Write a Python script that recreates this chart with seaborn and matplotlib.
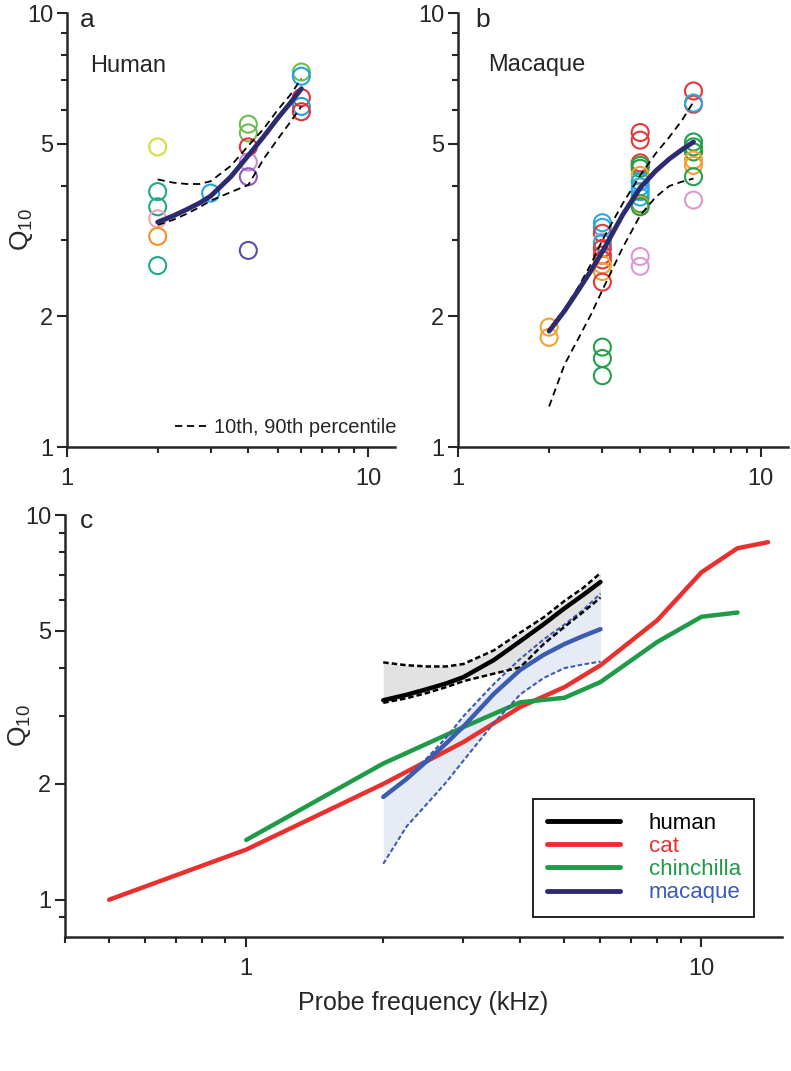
import matplotlib
matplotlib.use("Agg")
import matplotlib.pyplot as plt
from matplotlib.ticker import NullFormatter
from matplotlib.lines import Line2D
import seaborn as sns

# ---- panel a: individual human subjects ----
human_freq = [2, 2, 2, 2, 2, 2, 3, 4, 4, 4, 4, 4, 4, 6, 6, 6, 6, 6]
human_q10 = [4.92, 3.88, 3.58, 3.36, 3.06, 2.62, 3.85, 5.55, 5.30, 4.92, 4.54, 4.20, 2.84,
             7.32, 7.16, 6.39, 6.10, 5.93]
human_colors = ['#d6dc3c', '#1fa88a', '#1fa88a', '#f2a3ad', '#f39129', '#1fa88a', '#22a3de',
                '#6cbd4e', '#6cbd4e', '#e3303c', '#c98bd3', '#8e5db8', '#5a4fa6',
                '#6cbd4e', '#22a3de', '#e3303c', '#22a3de', '#e3303c']

# ---- panel b: individual macaques ----
macaque_freq = [2, 2,
                3, 3, 3, 3, 3, 3, 3, 3, 3, 3, 3, 3, 3, 3,
                4, 4, 4, 4, 4, 4, 4, 4, 4, 4, 4, 4, 4, 4, 4,
                6, 6, 6, 6, 6, 6, 6, 6, 6, 6]
macaque_q10 = [1.89, 1.79,
               3.29, 3.21, 3.11, 2.97, 2.95, 2.87, 2.77, 2.70, 2.63, 2.54, 2.40, 1.70, 1.60, 1.46,
               5.31, 5.10, 4.52, 4.46, 4.39, 4.23, 4.09, 3.98, 3.88, 3.77, 3.64, 3.61, 3.58, 2.75, 2.61,
               6.62, 6.17, 6.21, 5.05, 4.92, 4.79, 4.59, 4.46, 4.20, 3.71]
O, B, R, G, P = '#f5a030', '#2aa8e2', '#e53935', '#23a04c', '#dc98cf'
macaque_colors = [O, O,
                  B, B, R, P, B, R, R, R, O, O, R, G, G, G,
                  R, R, R, G, G, O, B, B, B, B, G, O, G, P, P,
                  R, R, B, G, G, G, O, O, G, P]

# ---- group curves (mean and 10th / 90th percentile) ----
freq_grid = [2, 2.25, 2.5, 2.75, 3, 3.5, 4, 4.5, 5, 5.5, 6]
human_mean = [3.30, 3.41, 3.53, 3.65, 3.79, 4.20, 4.70, 5.20, 5.72, 6.20, 6.70]
human_p90 = [4.14, 4.07, 4.04, 4.04, 4.10, 4.45, 4.95, 5.42, 5.98, 6.47, 7.07]
human_p10 = [3.25, 3.34, 3.45, 3.57, 3.70, 3.87, 4.02, 4.62, 5.12, 5.60, 6.10]
macaque_mean = [1.85, 2.06, 2.30, 2.55, 2.82, 3.43, 3.96, 4.33, 4.62, 4.85, 5.05]
macaque_p90 = [1.85, 2.08, 2.34, 2.64, 3.00, 3.64, 4.23, 4.75, 5.19, 5.67, 6.25]
macaque_p10 = [1.24, 1.55, 1.78, 2.02, 2.30, 2.88, 3.42, 3.77, 4.00, 4.09, 4.16]

# ---- panel c: other species ----
cat_freq = [0.5, 1, 2, 3, 4, 5, 6, 8, 10, 12, 14]
cat_q10 = [1.0, 1.35, 2.0, 2.57, 3.17, 3.57, 4.07, 5.33, 7.1, 8.2, 8.5]
chin_freq = [1, 2, 3, 4, 5, 6, 8, 10, 12]
chin_q10 = [1.43, 2.26, 2.81, 3.26, 3.35, 3.68, 4.68, 5.44, 5.58]

navy = '#2d2a70'
cat_red = '#e8312f'
chin_green = '#1f9b48'
mac_blue = '#3c5cb0'
dash_style = (0, (4, 2.6))
short_dash = (0, (2.2, 1.2))

sns.set_style("ticks")
plt.rcParams['font.family'] = ['Liberation Sans', 'DejaVu Sans']
plt.rcParams['mathtext.fontset'] = 'custom'
plt.rcParams['mathtext.rm'] = 'Liberation Sans'
plt.rcParams['mathtext.it'] = 'Liberation Sans'

fig = plt.figure(figsize=(7.91, 10.71), dpi=100)
ax_a = fig.add_axes([0.0847, 0.5826, 0.415, 0.405])
ax_b = fig.add_axes([0.579, 0.5826, 0.417, 0.405])
ax_c = fig.add_axes([0.0822, 0.1251, 0.906, 0.394])


def style_axes(ax, xlim, ylim, xminor, yminor, ylabel_x):
    ax.set_xscale('log')
    ax.set_yscale('log')
    ax.set_xlim(*xlim)
    ax.set_ylim(*ylim)
    ax.set_xticks([1, 10])
    ax.set_xticklabels(['1', '10'])
    ax.set_xticks(xminor, minor=True)
    ax.set_yticks([1, 2, 5, 10])
    ax.set_yticklabels(['1', '2', '5', '10'])
    ax.set_yticks(yminor, minor=True)
    ax.xaxis.set_minor_formatter(NullFormatter())
    ax.yaxis.set_minor_formatter(NullFormatter())
    ax.tick_params(which='major', length=7, width=1.5, labelsize=17, direction='out')
    ax.tick_params(which='minor', length=4.5, width=1.5, direction='out')
    ax.tick_params(axis='y', pad=3)
    ax.tick_params(axis='x', pad=8)
    for s in ['left', 'bottom']:
        ax.spines[s].set_linewidth(1.8)
    sns.despine(ax=ax)
    ax.set_ylabel('Q$_{10}$', fontsize=19)
    ax.yaxis.set_label_coords(ylabel_x, 0.5)


def subject_points(ax, freq, q10, colors):
    keys = [str(i) for i in range(len(freq))]
    sns.scatterplot(x=freq, y=q10, hue=keys, palette=dict(zip(keys, colors)),
                    legend=False, s=150, marker='o', linewidth=1.5, ax=ax, zorder=2)
    coll = ax.collections[-1]
    coll.set_edgecolors(coll.get_facecolors())
    coll.set_facecolors('none')


xminor_ab = [2, 3, 4, 5, 6, 7, 8, 9]
yminor_ab = [3, 4, 6, 7, 8, 9]

# panel a
style_axes(ax_a, (1, 12.3), (1, 10), xminor_ab, yminor_ab, -0.098)
subject_points(ax_a, human_freq, human_q10, human_colors)
sns.lineplot(x=freq_grid, y=human_p90, color='black', lw=1.3, linestyle=dash_style,
             estimator=None, sort=False, ax=ax_a, zorder=3)
sns.lineplot(x=freq_grid, y=human_p10, color='black', lw=1.3, linestyle=dash_style,
             estimator=None, sort=False, ax=ax_a, zorder=3)
sns.lineplot(x=freq_grid, y=human_mean, color=navy, lw=3.5, estimator=None, sort=False,
             ax=ax_a, zorder=4)
ax_a.text(0.04, 0.968, 'a', transform=ax_a.transAxes, fontsize=19, va='baseline')
ax_a.text(0.07, 0.865, 'Human', transform=ax_a.transAxes, fontsize=17, va='baseline')
pct_handle = Line2D([], [], color='black', lw=1.3, linestyle=dash_style)
ax_a.legend([pct_handle], ['10th, 90th percentile'], loc='center left',
            bbox_to_anchor=(0.33, 0.045), frameon=False, fontsize=14.5,
            handlelength=1.6, handletextpad=0.3, borderpad=0, borderaxespad=0)

# panel b
style_axes(ax_b, (1, 12.3), (1, 10), xminor_ab, yminor_ab, -0.098)
ax_b.set_ylabel('')
subject_points(ax_b, macaque_freq, macaque_q10, macaque_colors)
sns.lineplot(x=freq_grid, y=macaque_p90, color='black', lw=1.3, linestyle=dash_style,
             estimator=None, sort=False, ax=ax_b, zorder=3)
sns.lineplot(x=freq_grid, y=macaque_p10, color='black', lw=1.3, linestyle=dash_style,
             estimator=None, sort=False, ax=ax_b, zorder=3)
sns.lineplot(x=freq_grid, y=macaque_mean, color=navy, lw=3.5, estimator=None, sort=False,
             ax=ax_b, zorder=4)
ax_b.text(0.052, 0.968, 'b', transform=ax_b.transAxes, fontsize=19, va='baseline')
ax_b.text(0.091, 0.866, 'Macaque', transform=ax_b.transAxes, fontsize=17, va='baseline')

# panel c
style_axes(ax_c, (0.4, 15), (0.8, 10),
           [0.4, 0.5, 0.6, 0.7, 0.8, 0.9, 2, 3, 4, 5, 6, 7, 8, 9],
           [0.9, 3, 4, 6, 7, 8, 9], -0.045)
ax_c.set_xlabel('Probe frequency (kHz)', fontsize=18, labelpad=8)
ax_c.fill_between(freq_grid, macaque_p10, macaque_p90, color='#e6ebf6', lw=0, zorder=1)
ax_c.fill_between(freq_grid, human_p10, human_p90, color='#e2e2e2', lw=0, zorder=1)
sns.lineplot(x=cat_freq, y=cat_q10, color=cat_red, lw=3.2, estimator=None, sort=False,
             ax=ax_c, zorder=3)
sns.lineplot(x=chin_freq, y=chin_q10, color=chin_green, lw=3.2, estimator=None, sort=False,
             ax=ax_c, zorder=3)
for curve in (macaque_p90, macaque_p10):
    sns.lineplot(x=freq_grid, y=curve, color=mac_blue, lw=1.5, linestyle=short_dash,
                 estimator=None, sort=False, ax=ax_c, zorder=4)
for curve in (human_p90, human_p10):
    sns.lineplot(x=freq_grid, y=curve, color='black', lw=1.8, linestyle=short_dash,
                 estimator=None, sort=False, ax=ax_c, zorder=4)
sns.lineplot(x=freq_grid, y=macaque_mean, color=mac_blue, lw=3.2, estimator=None, sort=False,
             ax=ax_c, zorder=5)
sns.lineplot(x=freq_grid, y=human_mean, color='black', lw=3.2, estimator=None, sort=False,
             ax=ax_c, zorder=5)
ax_c.text(0.021, 0.969, 'c', transform=ax_c.transAxes, fontsize=19, va='baseline')

species = ['human', 'cat', 'chinchilla', 'macaque']
legend_line_colors = ['black', cat_red, chin_green, navy]
legend_text_colors = ['black', cat_red, chin_green, mac_blue]
handles = [Line2D([], [], color=c, lw=3.5) for c in legend_line_colors]
leg = ax_c.legend(handles, species, loc='lower right', bbox_to_anchor=(0.962, 0.048),
                  fontsize=16, handlelength=3.3, handletextpad=1.3, labelspacing=0.1,
                  borderpad=0.6, borderaxespad=0, fancybox=False, framealpha=1,
                  edgecolor='black')
leg.get_frame().set_linewidth(1.2)
for txt, c in zip(leg.get_texts(), legend_text_colors):
    txt.set_color(c)

fig.savefig('out.png', dpi=100)
